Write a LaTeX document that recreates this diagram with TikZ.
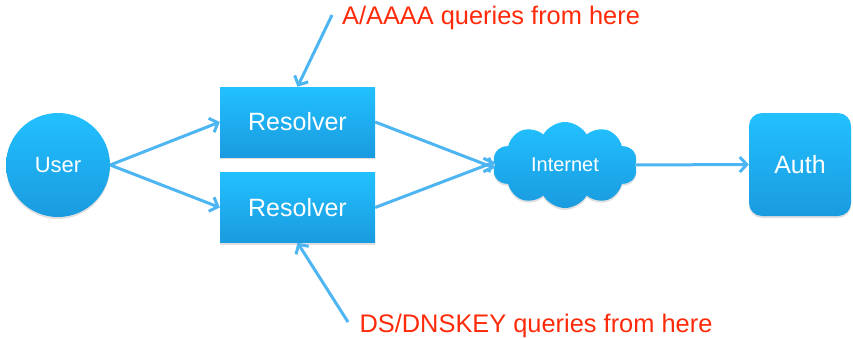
\documentclass[tikz,border=0pt]{standalone}
\usepackage{fontspec}
\setmainfont{Liberation Sans}
\usetikzlibrary{arrows.meta,shapes.symbols,shadows}
\definecolor{boxtop}{HTML}{22C0FF}
\definecolor{boxbot}{HTML}{1A9BDF}
\definecolor{linkblue}{HTML}{4DB6F2}
\definecolor{notered}{HTML}{FF2A0A}
\tikzset{
  shaded/.style={top color=boxtop, bottom color=boxbot, draw=none,
    drop shadow={opacity=0.25, shadow xshift=0pt, shadow yshift=-2pt},
    text=white, inner sep=0pt},
  resolverbox/.style={shaded, rectangle, minimum width=155pt, minimum height=70pt,
    font=\fontsize{25}{27}\selectfont},
  link/.style={draw=linkblue, line width=3pt,
    -{Straight Barb[length=7pt, width=15pt, line width=3pt]}},
  note/.style={text=notered, font=\fontsize{25.4}{28}\selectfont, inner sep=0pt}
}
\begin{document}
\begin{tikzpicture}[x=1pt, y=-1pt]
  \useasboundingbox (0,0) rectangle (853,337);

  % hosts and servers
  \node[shaded, circle, minimum size=104pt, font=\fontsize{22}{24}\selectfont] (user) at (58,165) {User};
  \node[resolverbox] (res1) at (297.5,122) {Resolver};
  \node[resolverbox] (res2) at (297.5,207.5) {Resolver};
  \node[shaded, cloud, cloud puffs=10, cloud puff arc=120, aspect=1.7,
        minimum width=145pt, minimum height=86pt,
        font=\fontsize{20}{22}\selectfont] (net) at (565,165) {Internet};
  \node[shaded, rectangle, rounded corners=13pt, minimum width=102pt, minimum height=103pt,
        font=\fontsize{25}{27}\selectfont] (auth) at (800,164.5) {Auth};

  % annotations
  \node[note, anchor=base] (notea) at (491,25) {A/AAAA queries from here};
  \node[note, anchor=base] (noteb) at (536,332) {DS/DNSKEY queries from here};
  \coordinate (fromA) at (332,15);
  \coordinate (fromB) at (348,322);

  % connectors
  \draw[link] (user.east) -- (res1.west);
  \draw[link] (user.east) -- (res2.west);
  \draw[link] (res1.east) -- ([yshift=-3pt]net.west);
  \draw[link] (res2.east) -- ([yshift=3pt]net.west);
  \draw[link] (net.east) -- (auth.west);
  \draw[link] (fromA) -- (res1.north);
  \draw[link] (fromB) -- (res2.south);
\end{tikzpicture}
\end{document}
